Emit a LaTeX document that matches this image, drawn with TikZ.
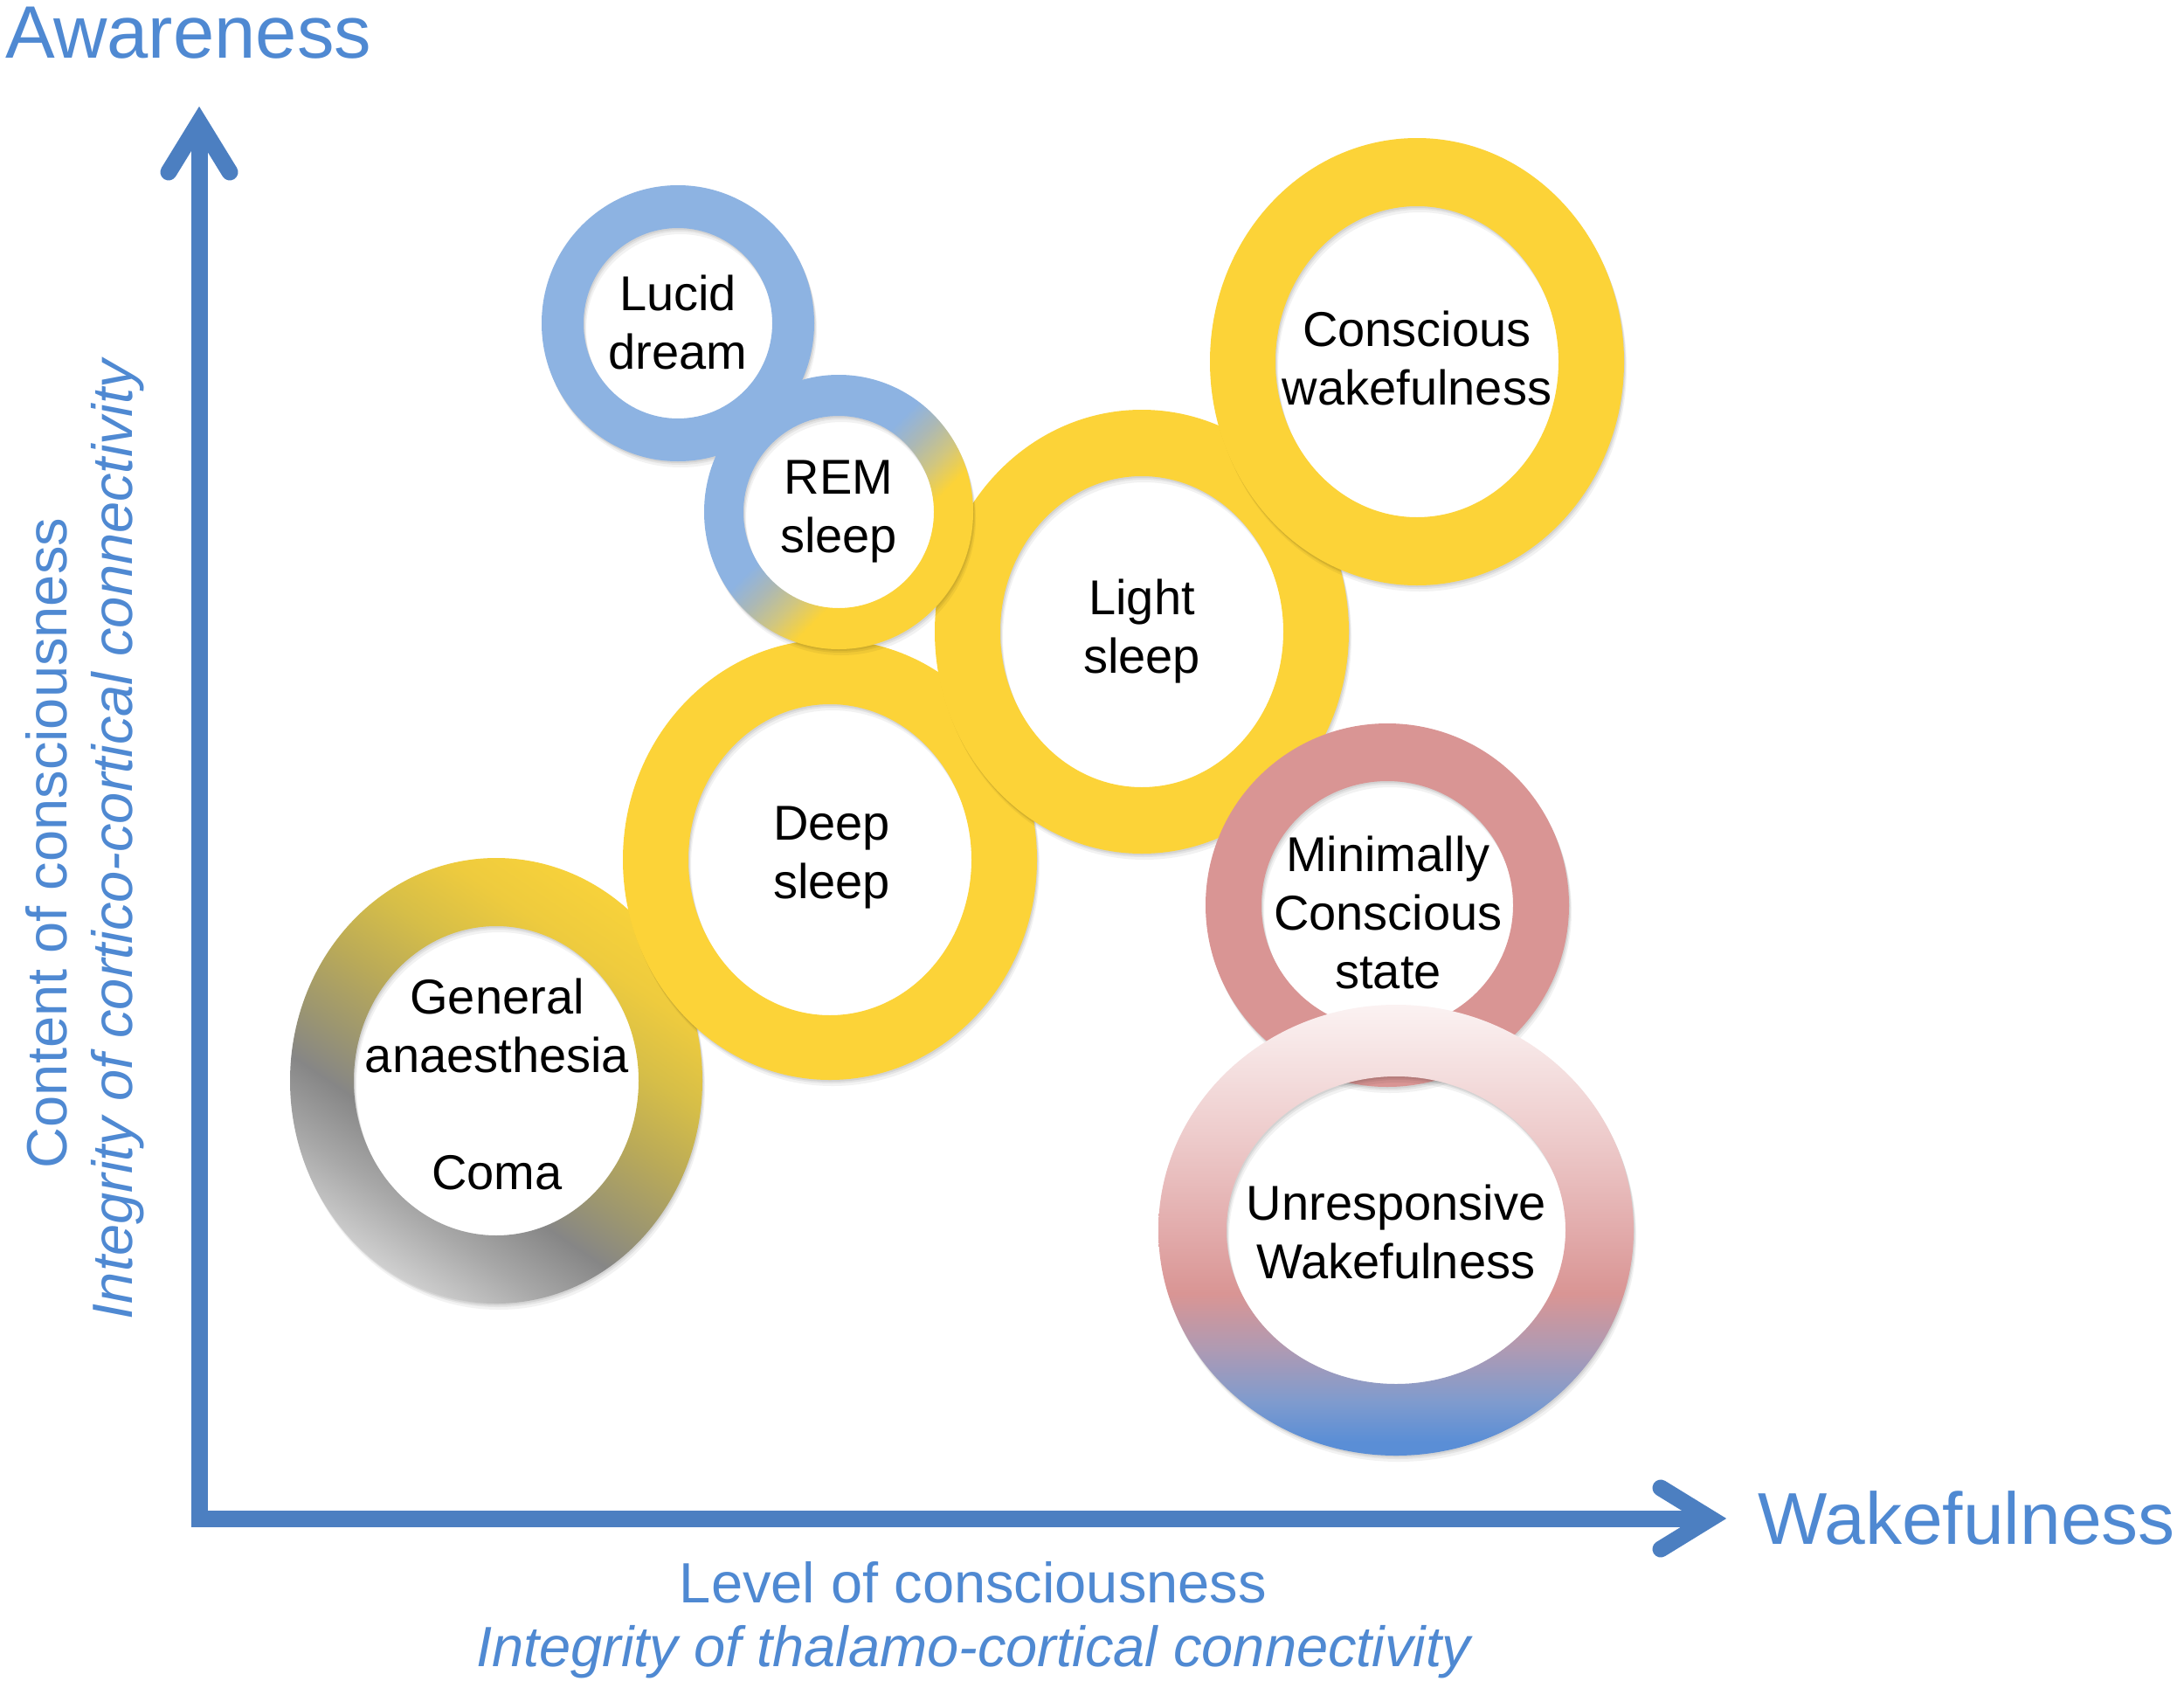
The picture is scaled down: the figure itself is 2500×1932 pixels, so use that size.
\documentclass[tikz,border=0pt]{standalone}
\usepackage{fontspec}
\setmainfont{Liberation Sans}
\definecolor{axisblue}{RGB}{76,127,193}
\definecolor{labelblue}{RGB}{79,137,210}
\definecolor{ringyellow}{RGB}{252,211,56}
\definecolor{ringblue}{RGB}{141,179,226}
\definecolor{ringpink}{RGB}{217,149,148}
% unresponsive wakefulness
\definecolor{uwA}{RGB}{90,142,214}
\definecolor{uwB}{RGB}{127,155,206}
\definecolor{uwC}{RGB}{176,154,178}
\definecolor{uwD}{RGB}{217,149,148}
\definecolor{uwE}{RGB}{226,171,171}
\definecolor{uwF}{RGB}{237,202,202}
\definecolor{uwG}{RGB}{251,242,242}
% REM
\definecolor{remA}{RGB}{172,184,180}
\definecolor{remB}{RGB}{208,198,128}
% general anaesthesia
\definecolor{gaA}{RGB}{248,210,58}
\definecolor{gaB}{RGB}{238,203,62}
\definecolor{gaC}{RGB}{214,190,72}
\definecolor{gaD}{RGB}{186,170,88}
\definecolor{gaE}{RGB}{156,150,112}
\definecolor{gaF}{RGB}{134,134,134}
\definecolor{gaG}{RGB}{168,168,168}
\definecolor{gaH}{RGB}{210,210,210}
\pgfdeclareverticalshading{uwshade}{100bp}{color(0bp)=(uwA); color(26.5bp)=(uwA); color(31bp)=(uwB); color(37bp)=(uwC); color(43bp)=(uwD); color(50bp)=(uwE); color(60bp)=(uwF); color(75bp)=(uwG); color(100bp)=(uwG)}
\pgfdeclareverticalshading{remshade}{100bp}{color(0bp)=(ringyellow); color(39bp)=(ringyellow); color(44bp)=(remB); color(49bp)=(remA); color(54bp)=(ringblue); color(100bp)=(ringblue)}
\pgfdeclareverticalshading{gashade}{100bp}{color(0bp)=(gaH); color(25bp)=(gaH); color(32.5bp)=(gaG); color(39.5bp)=(gaF); color(45bp)=(gaE); color(52.5bp)=(gaD); color(60bp)=(gaC); color(67.5bp)=(gaB); color(75bp)=(gaA); color(100bp)=(gaA)}
\newcommand\ringshadow[6]{%
  \foreach \dx/\dy/\op in {1/2/0.07, 2/4/0.06, 3/7/0.05}{%
    \fill[black, opacity=\op, even odd rule] (#1+\dx,#2+\dy) ellipse [x radius=#3, y radius=#4] (#1+\dx,#2+\dy) ellipse [x radius=#5, y radius=#6];}}
\newcommand\solidring[7]{%
  \ringshadow{#1}{#2}{#3}{#4}{#5}{#6}%
  \fill[#7, even odd rule] (#1,#2) ellipse [x radius=#3, y radius=#4] (#1,#2) ellipse [x radius=#5, y radius=#6];}
\newcommand\shadedring[8]{%
  \ringshadow{#1}{#2}{#3}{#4}{#5}{#6}%
  \begin{scope}[even odd rule]
    \clip (#1,#2) ellipse [x radius=#3, y radius=#4] (#1,#2) ellipse [x radius=#5, y radius=#6];
    \begin{scope}[transform canvas={rotate around={#8:(#1,#2)}}]
      \shade[shading=#7] (#1-#4-60,#2-#4) rectangle (#1+#4+60,#2+#4);
    \end{scope}
  \end{scope}}
\tikzset{
  statelabel/.style={font=\fontsize{56}{67}\selectfont, align=center, inner sep=0pt, text=black},
  axislabel/.style={font=\fontsize{65}{78}\selectfont, text=labelblue, inner sep=0pt},
  axistitle/.style={font=\fontsize{85}{100}\selectfont, text=labelblue, inner sep=0pt},
  axisline/.style={draw=axisblue, line width=19pt, line join=miter, line cap=butt},
  axishead/.style={draw=axisblue, line width=19pt, line join=miter, line cap=round}
}
\begin{document}
\begin{tikzpicture}[x=1pt, y=-1pt]
\useasboundingbox (0,0) rectangle (2500,1932);
\fill[white] (0,0) rectangle (2500,1932);
% rings, bottom to top
\shadedring{568}{1237}{236}{255}{163}{177}{gashade}{-34}
\solidring{950}{984}{237}{252}{162}{178}{ringyellow}
\solidring{1307}{723}{237}{254}{162}{178}{ringyellow}
\solidring{1622}{414}{237}{256}{162}{178}{ringyellow}
\solidring{1588}{1036}{208}{208}{144}{142}{ringpink}
\shadedring{1598}{1408}{272}{258}{194}{176}{uwshade}{0}
\solidring{776}{370}{156}{158}{108}{109}{ringblue}
\shadedring{960}{586}{154}{157}{109}{110}{remshade}{45}
% state labels
\node[statelabel] (lucid) at (776,369) {Lucid\\dream};
\node[statelabel] (rem) at (960,586) {REM\\sleep};
\node[statelabel] (conscious) at (1622,410) {Conscious\\wakefulness};
\node[statelabel] (light) at (1307,723) {Light\\sleep};
\node[statelabel] (deep) at (952,982) {Deep\\sleep};
\node[statelabel] (mcs) at (1589,1044) {Minimally\\Conscious\\state};
\node[statelabel] (ga) at (569,1241) {General\\anaesthesia\\[67pt]Coma};
\node[statelabel] (uw) at (1598,1410) {Unresponsive\\Wakefulness};
% axes
\coordinate (origin) at (228,1738);
\coordinate (ytop) at (228,140);
\coordinate (xend) at (1958,1738);
\coordinate (yl) at (193,197);
\coordinate (yr) at (263,197);
\coordinate (xl) at (1901,1703);
\coordinate (xr) at (1901,1773);
\draw[axisline] (ytop) -- (origin) -- (xend);
\draw[axishead] (yl) -- (ytop) -- (yr);
\draw[axishead] (xl) -- (xend) -- (xr);
% axis labels
\node[axistitle, anchor=base west] (aware) at (6,67) {Awareness};
\node[axistitle, anchor=base west, font=\fontsize{84}{100}\selectfont] (wake) at (2012,1767) {Wakefulness};
\node[axislabel, anchor=base] (level) at (1114,1834) {Level of consciousness};
\node[axislabel, anchor=base, font=\fontsize{65}{78}\selectfont\itshape] (thal) at (1114,1907) {Integrity of thalamo-cortical connectivity};
\node[axislabel, anchor=base, rotate=90] (content) at (76,965) {Content of consciousness};
\node[axislabel, anchor=base, rotate=90, font=\fontsize{65}{78}\selectfont\itshape] (cortico) at (151,961) {Integrity of cortico-cortical connectivity};
\end{tikzpicture}
\end{document}
